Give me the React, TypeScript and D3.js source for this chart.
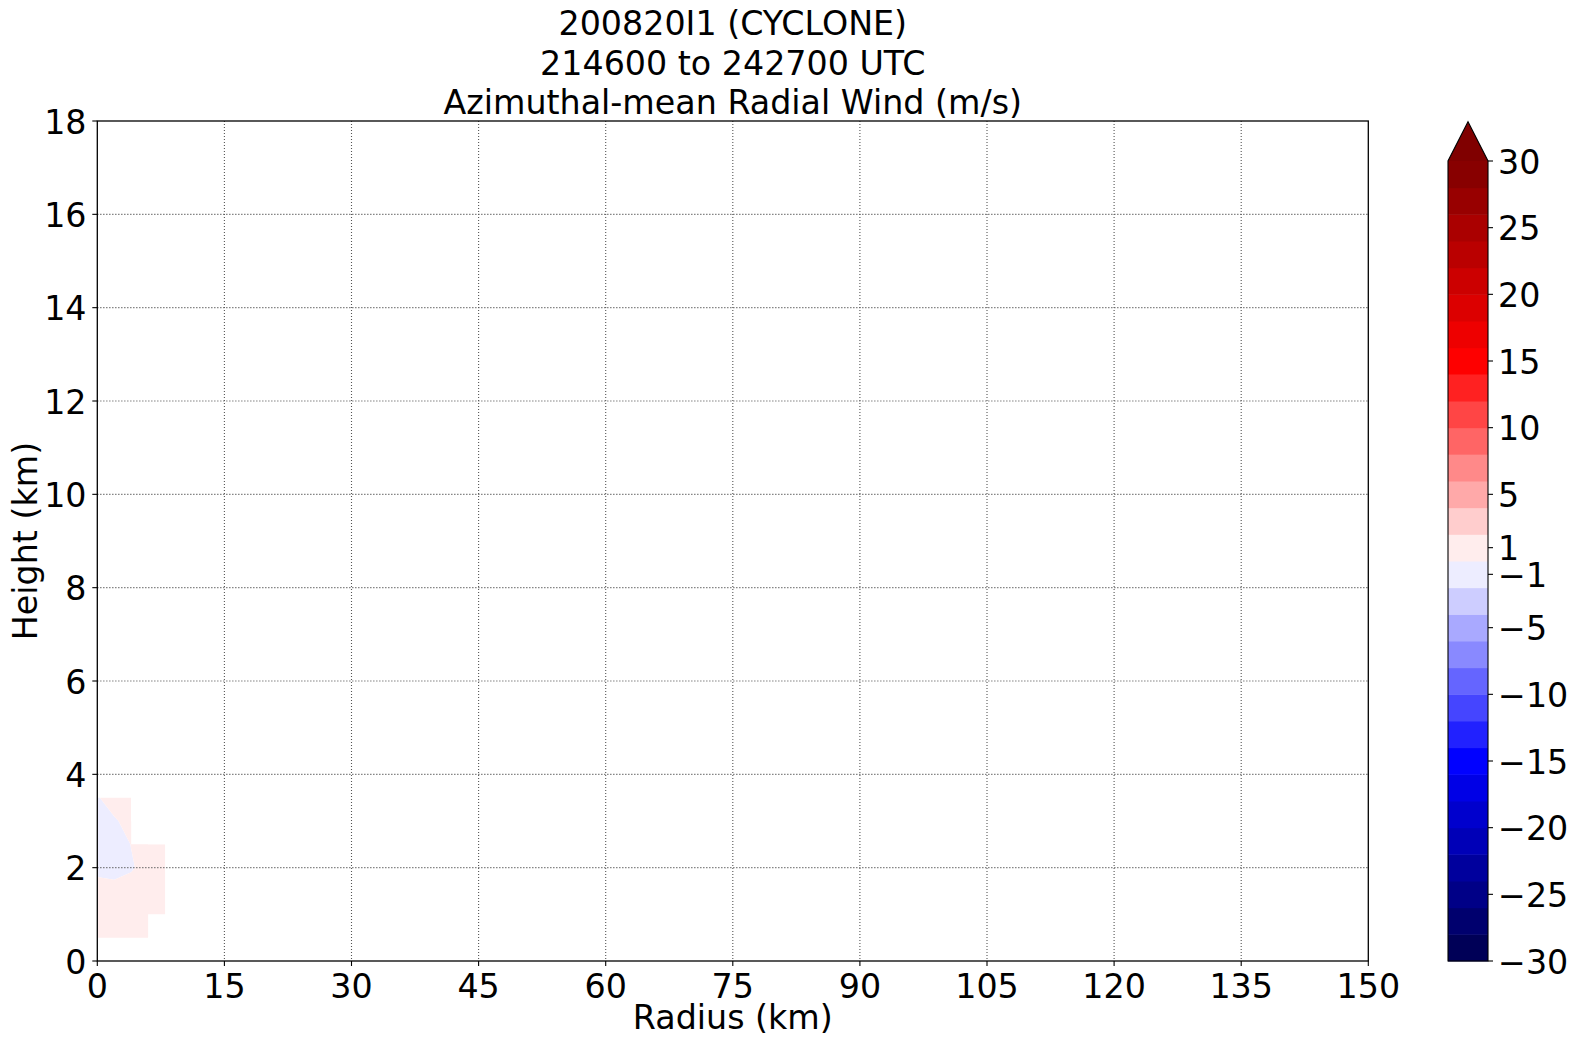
import React, { useMemo } from 'react';
import * as d3 from 'd3';

// grid of the azimuthal-mean radial wind (m/s); rows follow heights, columns follow radii
const radii = [0, 2, 4, 6, 8];
const heights = [0.5, 1.0, 1.5, 2.0, 2.5, 3.0, 3.5];
const windRows: (number | null)[][] = [
  [0.6, 0.7, 0.8, 0.6, null],
  [1.2, 0.9, 0.9, 0.8, 0.5],
  [1.65, 0.92, 0.8, 0.9, 0.6],
  [-1.1, -1.0, -0.2, 0.7, 0.5],
  [-1.3, -0.95, 0.05, 0.5, 0.4],
  [-0.9, -0.2, 0.6, null, null],
  [-0.15, 0.85, 0.9, null, null],
];

const levels = [-30, -28, -26, -24, -22, -20, -18, -16, -14, -12, -10, -8, -6, -4, -2, 0,
  2, 4, 6, 8, 10, 12, 14, 16, 18, 20, 22, 24, 26, 28, 30];
const cbarTicks = [-30, -25, -20, -15, -10, -5, -1, 1, 5, 10, 15, 20, 25, 30];
const xTicks = [0, 15, 30, 45, 60, 75, 90, 105, 120, 135, 150];
const yTicks = [0, 2, 4, 6, 8, 10, 12, 14, 16, 18];
const titleLines = ['200820I1 (CYCLONE)', '214600 to 242700 UTC', 'Azimuthal-mean Radial Wind (m/s)'];

const FONT = 'DejaVu Sans, Verdana, sans-serif';
const W = 1574, H = 1045;
const left = 97.3, right = 1368.3, top = 121, bottom = 961;
const cbX0 = 1448, cbX1 = 1488, cbTop = 161, cbBottom = 961, cbTip = 121.7;

// matplotlib "seismic" colormap, 256 entries
const seismicRaw = d3.scaleLinear<string>()
  .domain([0, 0.25, 0.5, 0.75, 1])
  .range(['#00004c', '#0000ff', '#ffffff', '#ff0000', '#800000'])
  .interpolate(d3.interpolateRgb)
  .clamp(true);
const seismic = (t: number) => seismicRaw(Math.min(255, Math.max(0, Math.floor(t * 256))) / 255);
const vmin = levels[0], vmax = levels[levels.length - 1];
const bandColor = (lo: number, hi: number) => seismic(((lo + hi) / 2 - vmin) / (vmax - vmin));
const fmt = (v: number) => (v < 0 ? '\u2212' + Math.abs(v) : String(v));

export default function App() {
  const x = d3.scaleLinear().domain([0, 150]).range([left, right]);
  const y = d3.scaleLinear().domain([0, 18]).range([bottom, top]);
  const cb = d3.scaleLinear().domain([vmin, vmax]).range([cbBottom, cbTop]);

  const { bands, cells } = useMemo(() => {
    const n = radii.length, m = heights.length;
    const flat = windRows.flat().map(v => (v == null ? -999 : v));
    const dataMin = d3.min(windRows.flat(), v => (v == null ? undefined : v)) as number;
    const gx = d3.scaleLinear().domain([0.5, n - 0.5]).range([radii[0], radii[n - 1]]);
    const gy = d3.scaleLinear().domain([0.5, m - 0.5]).range([heights[0], heights[m - 1]]);
    const proj = d3.geoTransform({
      point(px: number, py: number) {
        (this as any).stream.point(x(gx(px)), y(gy(py)));
      },
    });
    const path = d3.geoPath(proj);
    // only the levels from the band holding the minimum upward
    const used = levels.filter((t, i) => i < levels.length - 1 && levels[i + 1] > dataMin);
    const cs = d3.contours().size([n, m]).thresholds(used)(flat);
    const bands = cs.map((c, i) => {
      const next = cs[i + 1];
      const d = (path(c as any) || '') + (next ? path(next as any) || '' : '');
      return { d, fill: bandColor(c.value, levels[levels.indexOf(c.value) + 1]), key: c.value };
    }).filter((b, i) => cs[i].coordinates.length > 0);
    const cells: { x0: number; x1: number; y0: number; y1: number }[] = [];
    for (let j = 0; j < m - 1; j++) {
      for (let i = 0; i < n - 1; i++) {
        const ok = [windRows[j][i], windRows[j][i + 1], windRows[j + 1][i], windRows[j + 1][i + 1]]
          .every(v => v != null);
        if (ok) cells.push({ x0: x(radii[i]), x1: x(radii[i + 1]), y0: y(heights[j + 1]), y1: y(heights[j]) });
      }
    }
    return { bands, cells };
  }, []);

  const gridStyle = { stroke: '#555', strokeWidth: 1.1, strokeDasharray: '1.1,1.9' };

  return (
    <svg width={W} height={H} style={{ position: 'absolute', left: 0, top: 0, background: '#fff' }}
      fontFamily={FONT}>
      <defs>
        <clipPath id="valid">
          {cells.map((c, i) => (
            <rect key={i} x={c.x0} y={c.y0} width={c.x1 - c.x0} height={c.y1 - c.y0} />
          ))}
        </clipPath>
      </defs>

      <g clipPath="url(#valid)">
        {bands.map(b => <path key={b.key} d={b.d} fill={b.fill} fillRule="evenodd" stroke="none" />)}
      </g>

      {/* grid */}
      {xTicks.slice(1, -1).map(t => (
        <line key={'gx' + t} x1={x(t)} x2={x(t)} y1={top} y2={bottom} {...gridStyle} />
      ))}
      {yTicks.slice(1, -1).map(t => (
        <line key={'gy' + t} x1={left} x2={right} y1={y(t)} y2={y(t)} {...gridStyle} />
      ))}

      <rect x={left} y={top} width={right - left} height={bottom - top} fill="none" stroke="#000" strokeWidth={1.3} />

      {/* x axis */}
      {xTicks.map(t => (
        <g key={'xt' + t}>
          <line x1={x(t)} x2={x(t)} y1={bottom} y2={bottom + 5} stroke="#000" strokeWidth={1.1} />
          <text x={x(t)} y={998} textAnchor="middle" fontSize={33.3}>{t}</text>
        </g>
      ))}
      {/* y axis */}
      {yTicks.map(t => (
        <g key={'yt' + t}>
          <line x1={left - 5} x2={left} y1={y(t)} y2={y(t)} stroke="#000" strokeWidth={1.1} />
          <text x={86.5} y={y(t) + 12.5} textAnchor="end" fontSize={33.3}>{t}</text>
        </g>
      ))}

      <text x={(left + right) / 2} y={1029} textAnchor="middle" fontSize={33.3}>Radius (km)</text>
      <text transform={`translate(36.7,${(top + bottom) / 2}) rotate(-90)`} textAnchor="middle" fontSize={33.3}>
        Height (km)
      </text>

      {titleLines.map((s, i) => (
        <text key={s} x={(left + right) / 2} y={35 + i * 39.7} textAnchor="middle" fontSize={33.3}>{s}</text>
      ))}

      {/* colorbar */}
      {levels.slice(0, -1).map((lo, i) => {
        const hi = levels[i + 1];
        return (
          <rect key={'cb' + lo} x={cbX0} y={cb(hi)} width={cbX1 - cbX0} height={cb(lo) - cb(hi) + 0.5}
            fill={bandColor(lo, hi)} />
        );
      })}
      <path d={`M${cbX0},${cbTop}L${(cbX0 + cbX1) / 2},${cbTip}L${cbX1},${cbTop}Z`} fill={seismic(1)} />
      <path d={`M${cbX0},${cbBottom}L${cbX0},${cbTop}L${(cbX0 + cbX1) / 2},${cbTip}L${cbX1},${cbTop}L${cbX1},${cbBottom}Z`}
        fill="none" stroke="#000" strokeWidth={1.1} />
      {cbarTicks.map(t => (
        <g key={'ct' + t}>
          <line x1={cbX1} x2={cbX1 + 5} y1={cb(t)} y2={cb(t)} stroke="#000" strokeWidth={1.1} />
          <text x={1498} y={cb(t) + 12.5} fontSize={33.3}>{fmt(t)}</text>
        </g>
      ))}
    </svg>
  );
}
